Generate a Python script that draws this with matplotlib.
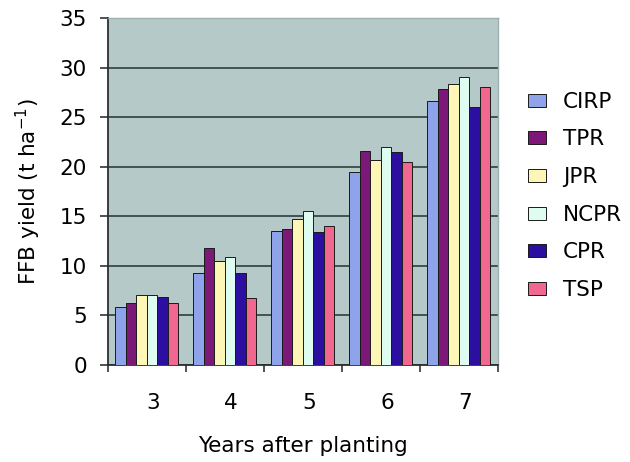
import numpy as np
import matplotlib
matplotlib.use('Agg')
import matplotlib.pyplot as plt

plt.rcParams['font.family'] = ['DejaVu Sans']

# --- Data ---
years = ['3', '4', '5', '6', '7']
series_names = ['CIRP', 'TPR', 'JPR', 'NCPR', 'CPR', 'TSP']
cirp = [5.8, 9.3, 13.5, 19.5, 26.6]
tpr = [6.3, 11.8, 13.7, 21.6, 27.8]
jpr = [7.1, 10.5, 14.7, 20.7, 28.3]
ncpr = [7.1, 10.9, 15.5, 22.0, 29.0]
cpr = [6.9, 9.3, 13.4, 21.5, 26.0]
tsp = [6.3, 6.8, 14.0, 20.5, 28.0]
colors = ['#8fa3ea', '#7b1878', '#fdf6b6', '#defcf0', '#2c0fa0', '#f06890']

all_series = [cirp, tpr, jpr, ncpr, cpr, tsp]

fig = plt.figure(figsize=(6.3, 4.62), dpi=100)
ax = fig.add_axes([0.171, 0.210, 0.619, 0.751])
ax.set_facecolor('#b6c9c9')

x = np.arange(len(years))
bar_w = 0.135
for i, (vals, name, col) in enumerate(zip(all_series, series_names, colors)):
    offs = (i - 2.5) * bar_w
    ax.bar(x + offs, vals, width=bar_w, color=col, edgecolor='#1a1a1a',
           linewidth=0.7, label=name, zorder=3)

ax.set_ylim(0, 35)
ax.set_xlim(-0.5, len(years) - 0.5)
ax.set_yticks(range(0, 36, 5))
ax.yaxis.grid(True, color='#3c4848', linewidth=1.3, zorder=1)
ax.set_axisbelow(True)

# category ticks at group boundaries, labels at centres
ax.set_xticks(np.arange(-0.5, len(years), 1.0))
ax.set_xticklabels([])
ax.set_xticks(x + 0.08, minor=True)
ax.set_xticklabels(years, minor=True)
ax.tick_params(axis='x', which='minor', length=0, pad=20, labelsize=15.5)
ax.tick_params(axis='x', which='major', length=5, width=1.2, color='#333333')
ax.tick_params(axis='y', length=6, width=1.2, color='#333333', labelsize=15.5, pad=9)

for side in ['left', 'bottom']:
    ax.spines[side].set_color('#2a3030')
    ax.spines[side].set_linewidth(1.3)
for side in ['top', 'right']:
    ax.spines[side].set_color('#9fb0b0')
    ax.spines[side].set_linewidth(1.0)

ax.set_ylabel('FFB yield (t ha$^{\\mathregular{-1}}$)', fontsize=15.5, labelpad=12)
ax.set_xlabel('Years after planting', fontsize=15.5, labelpad=17)

fig.legend(loc='center left', bbox_to_anchor=(0.825, 0.576), frameon=False,
           fontsize=15.5, handlelength=0.8, handleheight=0.55,
           handletextpad=0.8, labelspacing=0.82, borderaxespad=0)

plt.savefig('out.png', dpi=100)
